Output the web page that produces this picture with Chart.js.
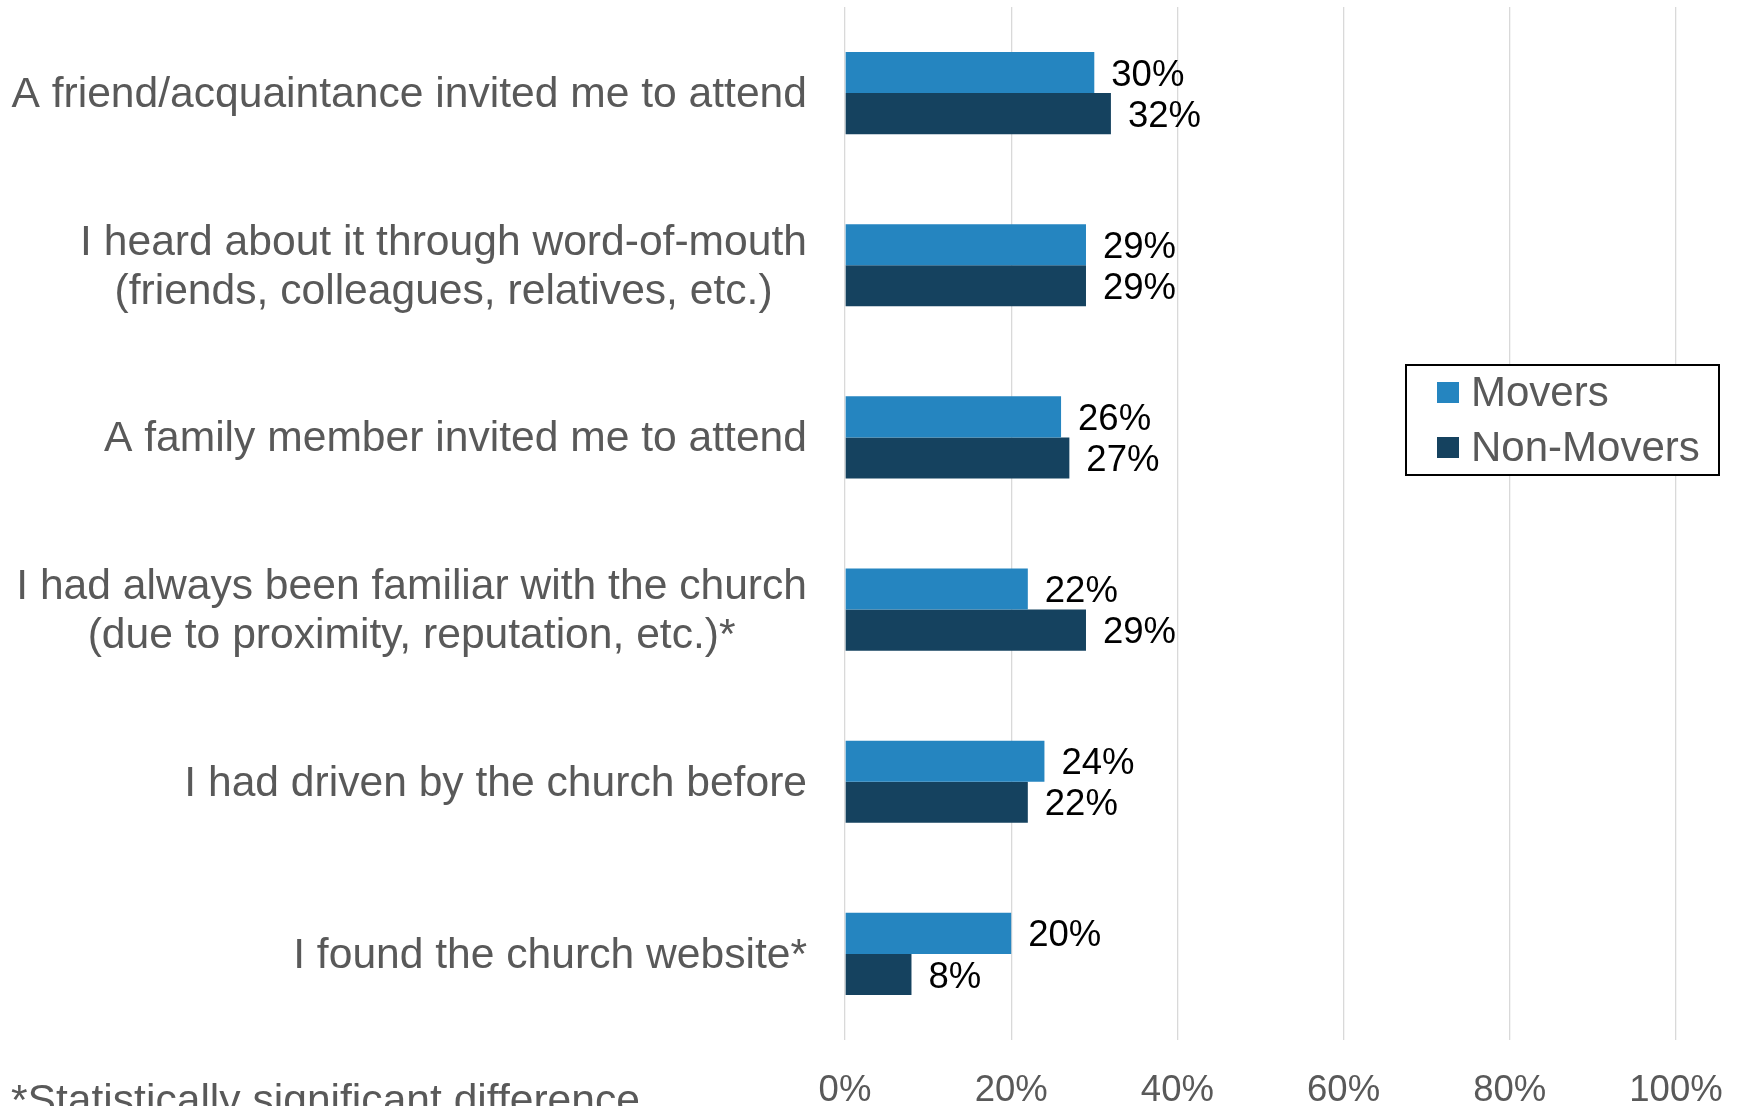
<!DOCTYPE html>
<html>
<head>
<meta charset="utf-8">
<script src="https://cdn.jsdelivr.net/npm/chart.js@4.4.1/dist/chart.umd.min.js"></script>
<style>
  html, body { margin: 0; padding: 0; background: #fff; overflow: hidden; }
  #wrap { width: 1739px; height: 1106px; position: relative; }
</style>
</head>
<body>
<div id="wrap"><canvas id="chart" width="1739" height="1106"></canvas></div>
<script>
// data
const categories = [
  ["A friend/acquaintance invited me to attend"],
  ["I heard about it through word-of-mouth", "(friends, colleagues, relatives, etc.)"],
  ["A family member invited me to attend"],
  ["I had always been familiar with the church", "(due to proximity, reputation, etc.)*"],
  ["I had driven by the church before"],
  ["I found the church website*"]
];
const movers = [30, 29, 26, 22, 24, 20];
const nonMovers = [32, 29, 27, 29, 22, 8];
const seriesNames = ["Movers", "Non-Movers"];
const xTicks = [0, 20, 40, 60, 80, 100];
const footnote = "*Statistically significant difference";

const FONT = '"Liberation Sans", Arial, sans-serif';
const GREY = '#595959';
const colors = ['#2585C0', '#15425F'];

// category labels: block right-aligned, lines centred within block
const catLabels = {
  id: 'catLabels',
  afterDraw(chart) {
    const ctx = chart.ctx, y = chart.scales.y;
    ctx.save();
    ctx.font = '42.6px ' + FONT;
    ctx.fillStyle = GREY;
    ctx.textAlign = 'center';
    ctx.textBaseline = 'middle';
    const right = chart.chartArea.left - 38;
    const lh = 49;
    categories.forEach((lines, i) => {
      const cy = y.getPixelForValue(i) + 2;
      const w = Math.max(...lines.map(l => ctx.measureText(l).width));
      const cx = right - w / 2;
      const y0 = cy - (lines.length - 1) * lh / 2;
      lines.forEach((l, k) => ctx.fillText(l, cx, y0 + k * lh));
    });
    ctx.textAlign = 'left';
    ctx.textBaseline = 'alphabetic';
    ctx.fillText(footnote, 11, 1114);
    ctx.restore();
  }
};

// value labels at bar ends
const valueLabels = {
  id: 'valueLabels',
  afterDatasetsDraw(chart) {
    const ctx = chart.ctx;
    ctx.save();
    ctx.font = '36.5px ' + FONT;
    ctx.fillStyle = '#000';
    ctx.textAlign = 'left';
    ctx.textBaseline = 'middle';
    chart.data.datasets.forEach((ds, di) => {
      chart.getDatasetMeta(di).data.forEach((bar, i) => {
        ctx.fillText(ds.data[i] + '%', bar.x + 17, bar.y + 3);
      });
    });
    ctx.restore();
  }
};

// boxed legend floating over the plot
const boxLegend = {
  id: 'boxLegend',
  afterDraw(chart) {
    const ctx = chart.ctx;
    const x0 = 1406, y0 = 365, w = 313, h = 110;
    ctx.save();
    ctx.fillStyle = '#fff';
    ctx.fillRect(x0, y0, w, h);
    ctx.strokeStyle = '#000';
    ctx.lineWidth = 2;
    ctx.strokeRect(x0, y0, w, h);
    ctx.font = '42px ' + FONT;
    ctx.textBaseline = 'middle';
    chart.data.datasets.forEach((ds, i) => {
      const cy = y0 + 27 + i * 55;
      ctx.fillStyle = ds.backgroundColor;
      ctx.fillRect(x0 + 31, cy - 10, 22, 21);
      ctx.fillStyle = GREY;
      ctx.fillText(ds.label, x0 + 65, cy + 2);
    });
    ctx.restore();
  }
};

new Chart(document.getElementById('chart'), {
  type: 'bar',
  data: {
    labels: categories.map(c => c.join(' ')),
    datasets: [
      { label: seriesNames[0], data: movers, backgroundColor: colors[0] },
      { label: seriesNames[1], data: nonMovers, backgroundColor: colors[1] }
    ]
  },
  options: {
    indexAxis: 'y',
    responsive: false,
    animation: false,
    devicePixelRatio: 1,
    layout: { padding: { top: 7, right: 63, left: 0, bottom: 0 } },
    datasets: { bar: { categoryPercentage: 0.477, barPercentage: 1 } },
    plugins: { legend: { display: false }, tooltip: { enabled: false } },
    scales: {
      x: {
        min: 0, max: 100,
        afterBuildTicks(s) { s.ticks = xTicks.map(v => ({ value: v })); },
        afterFit(s) { s.height = 66; s.paddingLeft = 0; s.paddingRight = 0; },
        border: { display: false },
        grid: { color: '#D9D9D9', lineWidth: 1.3, drawTicks: false },
        ticks: {
          padding: 29,
          color: GREY,
          font: { size: 36.5, family: FONT },
          callback: v => v + '%'
        }
      },
      y: {
        afterFit(s) { s.width = 845; },
        border: { display: false },
        grid: { display: false },
        ticks: { display: false }
      }
    }
  },
  plugins: [catLabels, valueLabels, boxLegend]
});
</script>
</body>
</html>
